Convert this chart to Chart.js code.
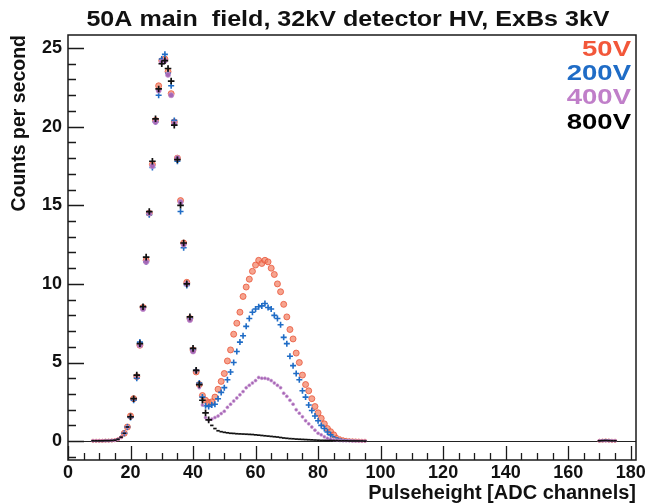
<!DOCTYPE html>
<html><head><meta charset="utf-8">
<script src="https://cdn.jsdelivr.net/npm/chart.js@4/dist/chart.umd.min.js"></script>
<style>html,body{margin:0;padding:0;background:#fff}#wrap{width:657px;height:504px}</style>
</head><body><div id="wrap"><canvas id="c" width="657" height="504"></canvas></div>
<script>
const chartTitle = "50A main  field, 32kV detector HV, ExBs 3kV";
const xAxisTitle = "Pulseheight [ADC channels]";
const yAxisTitle = "Counts per second";
const seriesLabels = ["50V", "200V", "400V", "800V"];
const seriesColors = ["#f2573a", "#1f6cc6", "#c07fc9", "#000000"];
const xTickLabels = [0, 20, 40, 60, 80, 100, 120, 140, 160, 180];
const yTickLabels = [0, 5, 10, 15, 20, 25];

const channels = [
  8,9,10,11,12,13,14,15,16,17,18,19,20,21,22,23,24,25,26,27,28,29,30,31,32,33,34,35,36,37,38,39,40,41,42,43,
  44,45,46,47,48,49,50,51,52,53,54,55,56,57,58,59,60,61,62,63,64,65,66,67,68,69,
  70,71,72,73,74,75,76,77,78,79,80,81,82,83,84,85,86,87,88,89,90,91,92,93,94,95,
  170,171,172,173,174,175
];
const counts50V = [
  0.02,0.02,0.02,0.02,0.03,0.03,0.04,0.06,0.12,0.25,0.5,0.9,1.6,2.7,4.1,6.1,8.5,11.5,14.5,17.6,20.4,22.6,24.2,24.3,23.5,22.1,20.3,18.0,15.3,12.6,10.1,7.8,5.8,4.4,3.6,2.9,
  2.6,2.45,2.5,2.8,3.3,3.8,4.3,5.1,5.8,6.8,7.5,8.2,9.2,9.8,10.3,10.8,11.2,11.5,11.3,11.5,11.4,11.0,10.6,10.0,9.5,8.7,
  7.9,7.1,6.5,5.6,5.0,4.2,3.6,3.2,2.7,2.2,1.8,1.45,1.1,0.8,0.6,0.4,0.28,0.18,0.12,0.08,0.06,0.05,0.04,0.03,0.02,0.02,
  0.02,0.03,0.04,0.03,0.02,0.02
];
const counts200V = [
  0.02,0.02,0.02,0.02,0.03,0.03,0.04,0.06,0.12,0.25,0.5,0.9,1.5,2.6,4.0,6.3,8.5,11.4,14.4,17.4,20.3,22.0,24.3,24.6,23.4,22.6,20.4,17.8,14.6,12.3,9.9,7.8,5.8,4.5,3.7,2.8,
  2.25,2.2,2.3,2.35,2.7,3.1,3.4,3.9,4.4,5.0,5.7,6.3,6.7,7.3,7.8,8.2,8.4,8.55,8.6,8.75,8.5,8.4,8.0,7.8,7.4,6.6,
  6.2,5.4,4.8,4.3,3.9,3.2,2.8,2.3,1.95,1.6,1.3,1.0,0.8,0.58,0.4,0.28,0.2,0.13,0.09,0.06,0.05,0.04,0.03,0.02,0.02,0.01,
  0.03,0.05,0.06,0.05,0.04,0.03
];
const counts400V = [
  0.02,0.02,0.02,0.02,0.03,0.03,0.04,0.06,0.12,0.25,0.5,0.9,1.55,2.65,4.1,6.1,8.4,11.4,14.5,17.5,20.3,22.3,24.1,24.2,23.3,22.0,20.2,18.0,15.2,12.5,10.0,7.7,5.7,4.4,3.4,2.3,
  1.5,1.35,1.4,1.5,1.6,1.75,1.9,2.15,2.35,2.55,2.75,2.95,3.15,3.4,3.55,3.7,3.85,4.05,4.0,4.0,3.95,3.85,3.7,3.55,3.4,3.05,
  2.85,2.6,2.35,2.0,1.78,1.55,1.3,1.1,0.9,0.7,0.5,0.4,0.28,0.18,0.12,0.08,0.06,0.04,0.03,0.02,0.02,0.01,0.01,0.01,0.01,0.01,
  0.02,0.03,0.03,0.03,0.02,0.02
];
const counts800V = [
  0.02,0.02,0.02,0.02,0.03,0.03,0.04,0.06,0.12,0.25,0.5,0.9,1.55,2.7,4.2,6.2,8.55,11.7,14.6,17.8,20.5,22.4,24.0,24.2,23.7,22.9,20.1,17.9,15.0,12.6,10.0,7.9,5.9,4.5,3.6,2.6,
  1.8,1.35,1.0,0.8,0.66,0.6,0.56,0.53,0.5,0.49,0.47,0.46,0.45,0.44,0.43,0.42,0.4,0.38,0.36,0.34,0.32,0.3,0.28,0.26,0.23,0.2,
  0.18,0.16,0.15,0.13,0.12,0.11,0.1,0.09,0.08,0.07,0.06,0.05,0.05,0.04,0.04,0.03,0.03,0.02,0.02,0.02,0.01,0.01,0.01,0.01,0.01,0.0,
  0.02,0.03,0.04,0.03,0.02,0.02
];

const seriesValues = [counts50V, counts200V, counts400V, counts800V];
const toPoints = arr => channels.map((x, i) => ({ x: x, y: arr[i] }));

const FONT = '"Liberation Sans", Arial, sans-serif';

const styleFor = [
  { // 50V
    pointStyle: 'circle',
    pointRadius: ctx => (ctx.raw && ctx.raw.y > 0.3 ? 3 : 1.6),
    pointBackgroundColor: 'rgba(242,125,95,0.7)',
    pointBorderColor: '#e8553a',
    pointBorderWidth: 0.8
  },
  { // 200V
    pointStyle: ctx => (ctx.raw && ctx.raw.y > 0.3 ? 'cross' : 'line'),
    pointRadius: ctx => (ctx.raw && ctx.raw.y > 0.3 ? 3 : 1.6),
    pointBackgroundColor: '#1f6cc6',
    pointBorderColor: '#1f6cc6',
    pointBorderWidth: 1.6
  },
  { // 400V
    pointStyle: 'circle',
    pointRadius: ctx => (ctx.raw && ctx.raw.y > 5 ? 2.6 : 1.5),
    pointBackgroundColor: '#a566b5',
    pointBorderColor: 'rgba(200,150,210,0.8)',
    pointBorderWidth: 0.8
  },
  { // 800V
    pointStyle: ctx => (ctx.raw && ctx.raw.y > 1.2 ? 'cross' : 'line'),
    pointRadius: ctx => (ctx.raw && ctx.raw.y > 1.2 ? 3.3 : 1.7),
    pointBackgroundColor: '#111',
    pointBorderColor: '#111',
    pointBorderWidth: 1.7
  }
];

const datasets = seriesLabels.map((lab, i) => Object.assign({
  label: lab,
  data: toPoints(seriesValues[i]),
  showLine: false,
  order: 3 - i,
  pointHoverRadius: 3
}, styleFor[i]));

function stretchedText(ctx, text, x, y, sx) {
  ctx.save();
  ctx.translate(x, y);
  ctx.scale(sx, 1);
  ctx.fillText(text, 0, 0);
  ctx.restore();
}

const rootFramePlugin = {
  id: 'rootFrame',
  afterDraw(chart) {
    const { ctx, chartArea: a, scales: { x, y } } = chart;
    ctx.save();
    ctx.strokeStyle = '#1a1a1a';
    ctx.lineWidth = 1.5;
    ctx.strokeRect(a.left, a.top, a.right - a.left, a.bottom - a.top);
    ctx.lineWidth = 1.3;
    ctx.beginPath();
    for (let v = 0; v <= x.max; v += 5) {
      const px = Math.round(x.getPixelForValue(v)) + 0.5;
      const len = (v % 20 === 0) ? 14 : 7;
      ctx.moveTo(px, a.bottom);
      ctx.lineTo(px, a.bottom - len);
    }
    for (let v = Math.ceil(y.min); v <= y.max; v += 1) {
      const py = Math.round(y.getPixelForValue(v)) + 0.5;
      const len = (v % 5 === 0) ? 16 : 8;
      ctx.moveTo(a.left, py);
      ctx.lineTo(a.left + len, py);
    }
    ctx.stroke();

    // title
    ctx.fillStyle = '#111';
    ctx.font = 'bold 22px ' + FONT;
    ctx.textAlign = 'center';
    ctx.textBaseline = 'middle';
    stretchedText(ctx, chartTitle, 348, 20, 1.14);

    // legend
    ctx.font = 'bold 22px ' + FONT;
    ctx.textAlign = 'right';
    seriesLabels.forEach((lab, i) => {
      ctx.fillStyle = seriesColors[i];
      stretchedText(ctx, lab, a.right - 5, a.top + 15 + i * 24.2, 1.25);
    });
    ctx.restore();
  }
};

new Chart(document.getElementById('c'), {
  type: 'scatter',
  data: { datasets },
  options: {
    responsive: false,
    animation: false,
    devicePixelRatio: 1,
    layout: { padding: { top: 35, right: 21, left: 0, bottom: 0 } },
    plugins: { legend: { display: false }, tooltip: { enabled: false }, title: { display: false } },
    scales: {
      x: {
        type: 'linear', min: 0, max: 181.7,
        afterBuildTicks: s => { s.ticks = xTickLabels.map(v => ({ value: v })); },
        afterFit: s => { s.height = 44; },
        ticks: { font: { family: FONT, size: 18, weight: 'bold' }, color: '#111', padding: 2, maxRotation: 0, autoSkip: false },
        grid: { display: false, drawTicks: false },
        border: { display: false },
        title: { display: true, text: xAxisTitle, align: 'end', color: '#111', font: { family: FONT, size: 20, weight: 'bold' }, padding: { top: 0, bottom: -1 } }
      },
      y: {
        type: 'linear', min: -1.2, max: 25.83,
        afterBuildTicks: s => { s.ticks = yTickLabels.map(v => ({ value: v })); },
        afterFit: s => { s.width = 68; },
        ticks: { font: { family: FONT, size: 18, weight: 'bold' }, color: '#111', padding: 6, autoSkip: false },
        grid: {
          drawTicks: false, drawOnChartArea: true, lineWidth: 1,
          color: c => (c.tick && c.tick.value === 0 ? '#222' : 'rgba(0,0,0,0)')
        },
        border: { display: false },
        title: { display: true, text: yAxisTitle, align: 'end', color: '#111', font: { family: FONT, size: 19.5, weight: 'bold' }, padding: { top: 8, bottom: 0 } }
      }
    }
  },
  plugins: [rootFramePlugin]
});
</script>
</body></html>
